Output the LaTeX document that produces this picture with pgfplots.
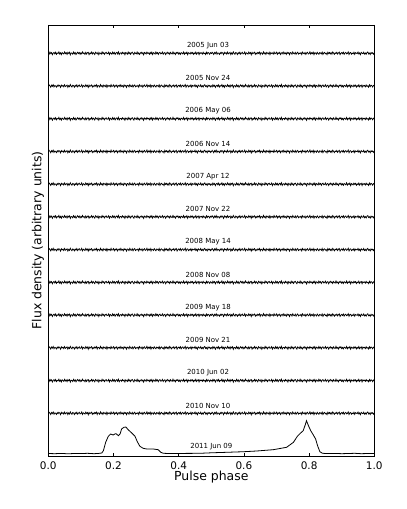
\documentclass[border=0pt]{standalone}
\usepackage{fontspec}
\setmainfont{DejaVu Sans}
\usepackage{pgfplots}
\usepackage{pgfplotstable}
\pgfplotsset{compat=1.18}
\pgfplotstableread{
n1 n2
0.4 -0.6
-0.9 1.1
1.2 0.2
-0.3 -1.2
0.7 0.8
-1.4 -0.3
0.2 1.3
0.9 -0.9
-0.6 0.5
1.1 0.0
-1.0 -1.1
0.3 0.7
-0.2 -0.4
1.4 1.0
-0.8 0.3
0.5 -1.4
-1.3 0.9
0.8 -0.2
0.0 0.6
-0.7 -0.8
1.3 1.2
-0.4 -0.5
0.6 0.1
-1.1 0.9
0.9 -1.3
-0.1 0.4
1.0 -0.7
-1.5 1.4
0.4 -0.1
0.2 -1.0
-0.9 0.8
1.2 0.3
-0.5 -1.2
0.7 0.6
-1.2 -0.4
0.1 1.1
1.1 -0.9
-0.3 0.2
0.8 1.0
-1.0 -0.6
0.5 -0.3
-0.6 1.3
1.4 -1.1
-0.2 0.5
0.3 0.0
-1.1 -0.8
0.9 1.2
-0.8 -0.2
0.6 0.7
1.0 -1.4
-1.3 0.9
0.2 -0.5
-0.4 0.4
1.2 1.1
-0.7 -1.0
0.8 0.3
-0.1 -0.7
-1.2 0.8
1.1 -0.1
0.3 1.2
-0.6 -1.2
0.9 0.6
-1.4 0.1
0.5 -0.9
0.1 1.4
-0.8 -0.4
1.3 0.5
-0.3 -1.1
0.7 0.9
-1.0 0.2
0.4 -0.6
1.0 1.0
-0.5 -1.3
-0.2 0.7
1.1 -0.2
-1.3 0.4
0.6 -0.8
0.0 1.3
-0.9 -0.5
1.2 0.0
-0.4 1.1
0.8 -1.0
-1.1 0.6
0.3 -0.3
0.9 0.9
-0.6 -1.2
1.4 0.2
-1.2 0.8
0.2 -0.7
0.5 1.2
-0.7 -0.4
1.0 0.3
-0.3 -1.1
0.6 1.0
-1.4 -0.1
0.8 0.6
0.1 -1.4
-0.9 0.7
1.2 0.5
-0.5 -0.9
0.7 1.3
-1.0 -0.2
0.4 -0.6
1.1 0.9
-0.2 -1.0
-1.3 0.4
0.9 1.1
0.0 -0.8
-0.6 0.1
1.3 -0.3
-0.8 0.7
0.5 -1.2
-1.1 1.2
0.2 0.0
1.0 -0.5
-0.4 0.8
0.6 -1.1
-1.5 0.3
0.8 1.0
0.3 -0.7
-0.7 -0.2
1.2 1.4
-0.1 -0.9
0.4 0.5
-1.0 -0.4
0.9 1.1
-0.5 -1.3
1.1 0.6
-1.2 0.2
0.6 -0.8
0.2 1.0
-0.8 -0.1
1.3 -1.0
-0.3 0.7
0.7 0.3
-1.1 -0.6
0.5 1.2
1.0 -1.2
-0.6 0.4
-0.2 0.9
1.2 -0.5
-0.9 0.1
0.3 -1.4
0.8 1.1
-1.3 -0.3
0.1 0.8
1.1 -0.7
-0.4 0.6
0.6 -0.9
-1.0 1.3
0.9 0.2
-0.2 -1.1
-0.7 0.5
1.4 -0.2
-0.5 1.0
0.3 -0.8
-1.2 0.4
0.8 1.2
0.0 -1.3
1.0 0.0
-0.8 0.7
0.4 -0.4
-1.1 1.1
0.7 -1.0
0.2 0.3
-0.6 0.9
1.3 -0.6
-0.9 -0.1
0.5 1.4
-0.3 -1.2
1.1 0.5
-1.4 0.8
0.6 -0.9
0.1 0.2
-0.7 -0.5
1.0 1.0
-0.2 -1.1
0.8 0.6
-1.1 0.1
0.4 -0.3
-0.5 1.2
1.2 -0.7
-0.9 0.4
0.3 -1.3
0.9 0.9
-1.3 0.0
0.7 -0.4
-0.1 1.1
0.5 -0.8
-0.8 0.3
1.0 -1.0
-0.4 0.7
0.2 1.3
-1.2 -0.6
1.1 0.2
-0.6 -1.2
0.8 0.8
0.3 -0.2
-1.0 0.5
0.6 -0.9
0.0 0.4
}\noise
% #1 = baseline, #2 = column for first half, #3 = column for second half
\newcommand{\trace}[3]{%
\addplot[black, line width=0.75pt] table[x expr=\coordindex/400, y expr=\thisrow{#2}+#1] {\noise};
\addplot[black, line width=0.75pt] table[x expr=0.5+\coordindex/400, y expr=\thisrow{#3}+#1] {\noise};
}
\begin{document}
\begin{tikzpicture}
\useasboundingbox (-48.3bp,-53.0bp) rectangle (358.7bp,456.0bp);
\begin{axis}[
  scale only axis,
  width=326bp, height=431bp,
  xmin=0, xmax=1, ymin=0, ymax=431,
  xtick={0,0.2,0.4,0.6,0.8,1.0},
  xticklabels={0.0,0.2,0.4,0.6,0.8,1.0},
  ytick=\empty,
  xtick pos=both,
  tick align=inside,
  major tick length=3.5bp,
  axis line style={black, line width=0.6pt},
  every tick/.style={black, line width=0.5pt},
  xticklabel style={font=\fontsize{10.5}{12}\selectfont, anchor=center, yshift=-9.5bp},
  xlabel={Pulse phase},
  xlabel style={font=\fontsize{12.5}{14}\selectfont, at={(axis description cs:0.5,0)}, anchor=center, yshift=-21bp},
  ylabel={Flux density (arbitrary units)},
  ylabel style={font=\fontsize{12.5}{14}\selectfont, at={([xshift=-10.3bp]axis description cs:0,0.5)}, anchor=center},
  clip=true,
]
\trace{402.7}{n1}{n2}
\trace{370.0}{n2}{n1}
\trace{337.2}{n1}{n1}
\trace{304.5}{n2}{n2}
\trace{271.8}{n2}{n1}
\trace{239.1}{n1}{n2}
\trace{206.3}{n2}{n2}
\trace{173.6}{n1}{n1}
\trace{140.9}{n1}{n2}
\trace{108.2}{n2}{n1}
\trace{75.4}{n1}{n1}
\trace{42.7}{n2}{n2}
\addplot[black, line width=0.8pt] coordinates {
(0,2.5)(0.02,2.3)(0.04,2.6)(0.06,2.2)(0.08,2.5)(0.10,2.4)(0.12,2.7)(0.14,2.3)(0.155,2.6)(0.164,3.0)
(0.169,5.3)(0.176,13.7)(0.184,19.7)(0.191,22.0)(0.199,21.0)(0.204,22.0)(0.208,22.3)(0.215,20.3)
(0.220,22.0)(0.225,27.0)(0.232,28.7)(0.238,29.0)(0.245,26.3)(0.256,23.0)(0.266,19.7)(0.273,14.3)
(0.281,9.7)(0.291,7.7)(0.302,7.0)(0.322,7.0)(0.337,6.3)(0.345,3.7)(0.353,2.7)(0.38,2.4)(0.42,2.6)
(0.465,2.7)(0.50,3.2)(0.547,3.7)(0.60,4.3)(0.639,5.0)(0.690,6.3)(0.731,8.7)(0.752,13.7)(0.764,19.7)
(0.774,23.0)(0.782,25.3)(0.789,32.0)(0.792,35.3)(0.798,30.3)(0.805,25.3)(0.813,21.0)(0.820,17.0)
(0.826,10.3)(0.833,4.3)(0.841,2.7)(0.86,2.4)(0.88,2.6)(0.90,2.3)(0.92,2.5)(0.94,2.7)(0.96,2.3)
(0.98,2.5)(1.0,2.4)
};
\begin{scope}[every node/.style={font=\fontsize{7}{8}\selectfont, anchor=center}]
\node at (axis cs:0.49,410.4) {2005 Jun 03};
\node at (axis cs:0.49,377.7) {2005 Nov 24};
\node at (axis cs:0.49,344.9) {2006 May 06};
\node at (axis cs:0.49,312.2) {2006 Nov 14};
\node at (axis cs:0.49,279.5) {2007 Apr 12};
\node at (axis cs:0.49,246.8) {2007 Nov 22};
\node at (axis cs:0.49,214.0) {2008 May 14};
\node at (axis cs:0.49,181.3) {2008 Nov 08};
\node at (axis cs:0.49,148.6) {2009 May 18};
\node at (axis cs:0.49,115.9) {2009 Nov 21};
\node at (axis cs:0.49,83.1) {2010 Jun 02};
\node at (axis cs:0.49,50.4) {2010 Nov 10};
\node at (axis cs:0.50,9.3) {2011 Jun 09};
\end{scope}
\end{axis}
\end{tikzpicture}
\end{document}
